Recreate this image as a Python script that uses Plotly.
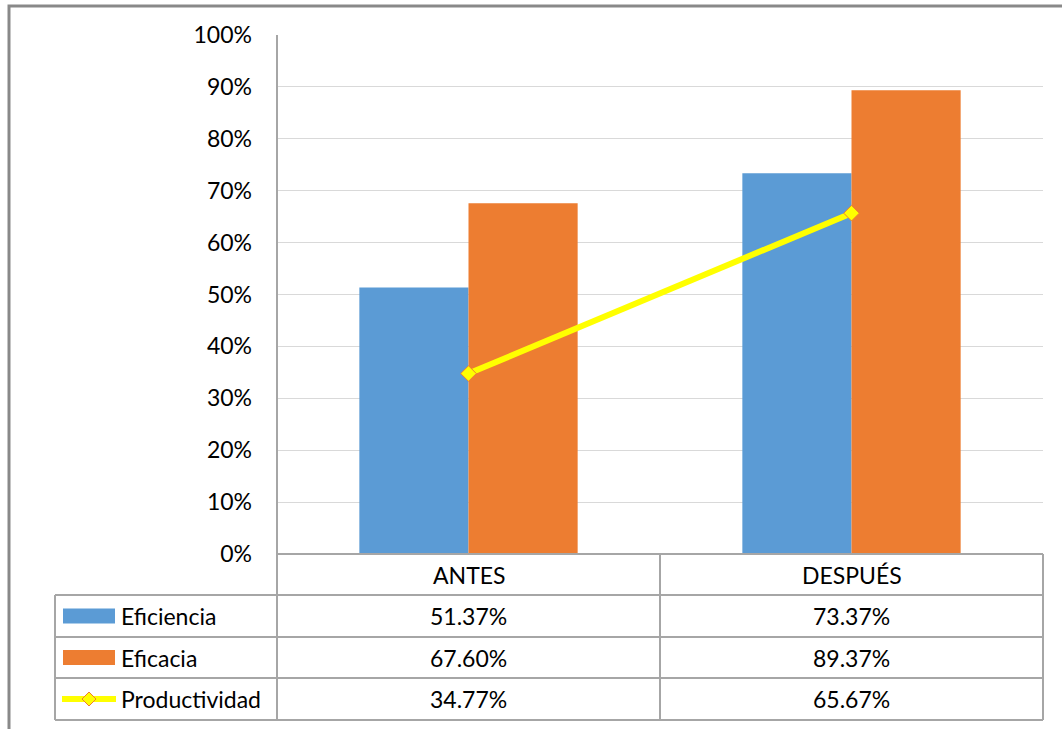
import plotly.graph_objects as go

# Datos
periodos = ["ANTES", "DESPUÉS"]
eficiencia = [0.5137, 0.7337]
eficacia = [0.6760, 0.8937]
productividad = [0.3477, 0.6567]
series_nombres = ["Eficiencia", "Eficacia", "Productividad"]

AZUL = "#5B9BD5"
NARANJA = "#ED7D31"
AMARILLO = "#FFFF00"
GRIS = "#A6A6A6"
FUENTE = "Lato"
TAM = 23

W, H = 1062, 729


def px(x):
    return x / W


def py(y):
    return 1 - y / H


# geometría de la tabla (píxeles)
X_LEYENDA, X_EJE, X_MED, X_DER = 55, 277, 660, 1043
Y_TOP, Y_CERO = 35, 554
FILAS = [554, 595, 637, 678, 720]

fig = go.Figure()
fig.add_trace(go.Bar(x=periodos, y=eficiencia, name=series_nombres[0],
                     marker=dict(color=AZUL, line=dict(width=0))))
fig.add_trace(go.Bar(x=periodos, y=eficacia, name=series_nombres[1],
                     marker=dict(color=NARANJA, line=dict(width=0))))
fig.add_trace(go.Scatter(x=periodos, y=productividad, name=series_nombres[2],
                         mode="lines+markers",
                         line=dict(color=AMARILLO, width=6),
                         marker=dict(symbol="diamond", size=12, color=AMARILLO,
                                     line=dict(color=NARANJA, width=1))))

fig.update_layout(
    width=W, height=H,
    margin=dict(l=0, r=0, t=0, b=0, autoexpand=False),
    paper_bgcolor="white", plot_bgcolor="white",
    barmode="group", bargap=0.43, bargroupgap=0,
    showlegend=False,
    font=dict(family=FUENTE, size=TAM, color="black"),
    xaxis=dict(domain=[px(X_EJE), px(X_DER)], range=[-0.5, 1.5],
               showticklabels=False, showgrid=False, zeroline=False,
               showline=False, fixedrange=True, automargin=False),
    yaxis=dict(domain=[py(Y_CERO), py(Y_TOP)], range=[0, 1],
               tickformat=".0%", dtick=0.1, tick0=0,
               showgrid=True, gridcolor="#D9D9D9", gridwidth=1,
               zeroline=False, showline=False, automargin=False,
               ticks="", ticklabelstandoff=24,
               tickfont=dict(family=FUENTE, size=TAM, color="black")),
)

shapes = []
linea = dict(color=GRIS, width=2)

# marco exterior
shapes.append(dict(type="rect", xref="paper", yref="paper",
                   x0=px(9), x1=px(W + 20), y0=py(6), y1=py(H + 20),
                   line=dict(color="#898989", width=3), layer="above"))

# eje vertical
shapes.append(dict(type="line", xref="paper", yref="paper",
                   x0=px(X_EJE), x1=px(X_EJE), y0=py(Y_TOP), y1=py(FILAS[-1]),
                   line=linea, layer="above"))
# líneas horizontales de la tabla
shapes.append(dict(type="line", xref="paper", yref="paper",
                   x0=px(X_EJE), x1=px(X_DER), y0=py(FILAS[0]), y1=py(FILAS[0]),
                   line=linea, layer="above"))
for yf in FILAS[1:]:
    shapes.append(dict(type="line", xref="paper", yref="paper",
                       x0=px(X_LEYENDA), x1=px(X_DER), y0=py(yf), y1=py(yf),
                       line=linea, layer="above"))
# líneas verticales de la tabla
for xv in (X_MED, X_DER):
    shapes.append(dict(type="line", xref="paper", yref="paper",
                       x0=px(xv), x1=px(xv), y0=py(FILAS[0]), y1=py(FILAS[-1]),
                       line=linea, layer="above"))
shapes.append(dict(type="line", xref="paper", yref="paper",
                   x0=px(X_LEYENDA), x1=px(X_LEYENDA), y0=py(FILAS[1]), y1=py(FILAS[-1]),
                   line=linea, layer="above"))

# claves de leyenda
centros_filas = [(FILAS[i] + FILAS[i + 1]) / 2 for i in range(1, 4)]
for yc, color in zip(centros_filas[:2], (AZUL, NARANJA)):
    shapes.append(dict(type="rect", xref="paper", yref="paper",
                       x0=px(63), x1=px(115), y0=py(yc - 7.5), y1=py(yc + 7.5),
                       fillcolor=color, line=dict(width=0), layer="above"))
yc = centros_filas[2]
shapes.append(dict(type="line", xref="paper", yref="paper",
                   x0=px(62), x1=px(116), y0=py(yc), y1=py(yc),
                   line=dict(color=AMARILLO, width=6), layer="above"))
cx, r = 89, 7
shapes.append(dict(type="path", xref="paper", yref="paper",
                   path=f"M {px(cx - r)} {py(yc)} L {px(cx)} {py(yc - r)} "
                        f"L {px(cx + r)} {py(yc)} L {px(cx)} {py(yc + r)} Z",
                   fillcolor=AMARILLO, line=dict(color=NARANJA, width=1),
                   layer="above"))

annotations = []
# encabezados de columna
for p in periodos:
    annotations.append(dict(x=p, xref="x", y=py((FILAS[0] + FILAS[1]) / 2),
                            yref="paper", text=p, showarrow=False,
                            xanchor="center", yanchor="middle",
                            font=dict(family=FUENTE, size=TAM, color="black")))
# valores
for serie, yc in zip((eficiencia, eficacia, productividad), centros_filas):
    for p, v in zip(periodos, serie):
        annotations.append(dict(x=p, xref="x", y=py(yc), yref="paper",
                                text=f"{v * 100:.2f}%", showarrow=False,
                                xanchor="center", yanchor="middle",
                                font=dict(family=FUENTE, size=TAM, color="black")))
# nombres de series
for nombre, yc in zip(series_nombres, centros_filas):
    annotations.append(dict(x=px(119), xref="paper", y=py(yc), yref="paper",
                            text=nombre, showarrow=False,
                            xanchor="left", yanchor="middle",
                            font=dict(family=FUENTE, size=TAM, color="black")))

fig.update_layout(shapes=shapes, annotations=annotations)
fig.write_html("out.html")
